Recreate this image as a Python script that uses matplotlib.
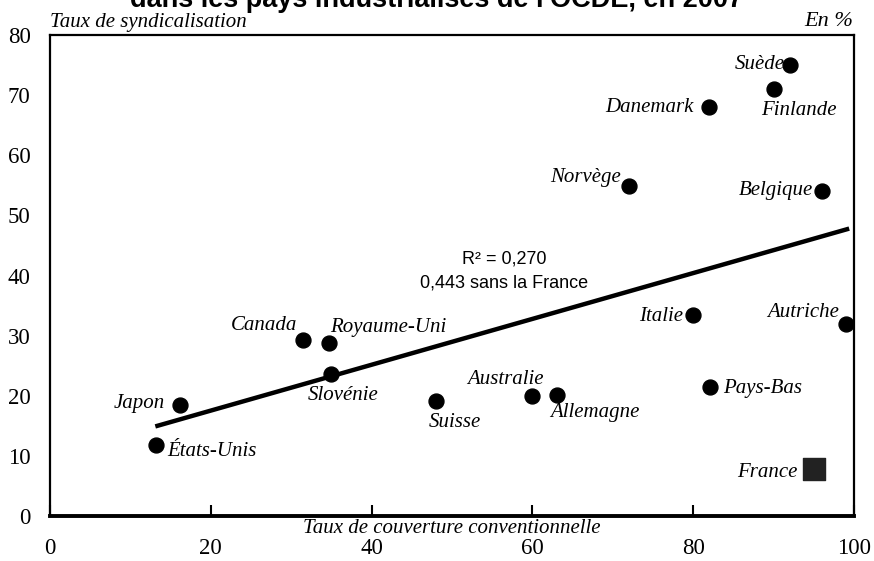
import matplotlib.pyplot as plt

# Données
pays = ['Suède', 'Finlande', 'Danemark', 'Norvège', 'Belgique', 'Italie',
        'Autriche', 'Canada', 'Royaume-Uni', 'Slovénie', 'Pays-Bas',
        'Australie', 'Allemagne', 'Suisse', 'Japon', 'États-Unis']
couverture = [92.0, 90.0, 82.0, 72.0, 96.0, 80.0, 99.0, 31.5, 34.7, 35.0,
              82.1, 60.0, 63.0, 48.0, 16.2, 13.2]
syndicalisation = [75.0, 71.0, 68.0, 54.9, 54.1, 33.4, 31.9, 29.3, 28.7,
                   23.7, 21.4, 19.9, 20.1, 19.1, 18.4, 11.8]

france_x = [95.0]
france_y = [7.8]

# Droite de régression (extrémités lues)
trend_x = [13.1, 99.4]
trend_y = [14.9, 47.8]

x_ticks = [0, 20, 40, 60, 80, 100]
y_ticks = [0, 10, 20, 30, 40, 50, 60, 70, 80]

# décalage des étiquettes en pixels (dx, dy, ha, va)
label_pos = {
    'Suède': (-5, 1, 'right', 'center'),
    'Finlande': (25, -21, 'center', 'center'),
    'Danemark': (-16, 0, 'right', 'center'),
    'Norvège': (-8, 8, 'right', 'center'),
    'Belgique': (-9, 0, 'right', 'center'),
    'Italie': (-10, -1, 'right', 'center'),
    'Autriche': (-7, 12, 'right', 'center'),
    'Canada': (-6, 14, 'right', 'center'),
    'Royaume-Uni': (1, 16, 'left', 'center'),
    'Slovénie': (12, -22, 'center', 'center'),
    'Pays-Bas': (13, -1, 'left', 'center'),
    'Australie': (11, 17, 'right', 'center'),
    'Allemagne': (-6, -17, 'left', 'center'),
    'Suisse': (19, -21, 'center', 'center'),
    'Japon': (-15, 2, 'right', 'center'),
    'États-Unis': (11, -6, 'left', 'center'),
}

serif = 'Liberation Serif'
fs_lab = 15

fig = plt.figure(figsize=(8.74, 5.61), dpi=100)
ax = fig.add_axes([50 / 874, 45 / 561, 804 / 874, 481 / 561])

ax.plot(trend_x, trend_y, color='black', lw=3.2, solid_capstyle='butt', zorder=2)
ax.scatter(couverture, syndicalisation, s=115, color='black', zorder=3)
ax.scatter(france_x, france_y, s=250, marker='s', color='#222222', zorder=3)

for nom, x, y in zip(pays, couverture, syndicalisation):
    dx, dy, ha, va = label_pos[nom]
    ax.annotate(nom, (x, y), xytext=(dx, dy), textcoords='offset pixels',
                ha=ha, va=va, fontsize=fs_lab, style='italic', family=serif)
ax.annotate('France', (france_x[0], france_y[0]), xytext=(-16, -3),
            textcoords='offset pixels', ha='right', va='center',
            fontsize=fs_lab, style='italic', family=serif)

ax.text(56.5, 42.8, 'R² = 0,270', ha='center', va='center', fontsize=13,
        family='Liberation Sans')
ax.text(56.5, 38.8, '0,443 sans la France', ha='center', va='center',
        fontsize=13, family='Liberation Sans')

ax.set_xlim(0, 100)
ax.set_ylim(0, 80)
ax.set_xticks(x_ticks)
ax.set_yticks(y_ticks)
ax.set_xticklabels([str(v) for v in x_ticks], family=serif, fontsize=16.5)
ax.set_yticklabels([str(v) for v in y_ticks], family=serif, fontsize=16.5)
ax.tick_params(axis='x', direction='in', length=8, width=1.5, pad=16)
ax.tick_params(axis='y', length=0, pad=14)

for side in ['left', 'right', 'top']:
    ax.spines[side].set_linewidth(1.6)
ax.spines['bottom'].set_linewidth(2.8)

ax.text(0.5, -0.007, 'Taux de couverture conventionnelle', transform=ax.transAxes,
        ha='center', va='top', fontsize=fs_lab, style='italic', family=serif)
fig.text(50 / 874, 1 - 22 / 561, 'Taux de syndicalisation', ha='left', va='center',
         fontsize=fs_lab, style='italic', family=serif)
fig.text(853 / 874, 1 - 21 / 561, 'En %', ha='right', va='center',
         fontsize=16, style='italic', family=serif)

# titre coupé en haut de l'image, comme dans l'original
fig.text(0.5, 1 - 7 / 561, "dans les pays industrialisés de l'OCDE, en 2007",
         ha='center', va='baseline', fontsize=19.5, fontweight='bold',
         family='Liberation Sans')

fig.savefig('out.png', dpi=100)
plt.close(fig)
